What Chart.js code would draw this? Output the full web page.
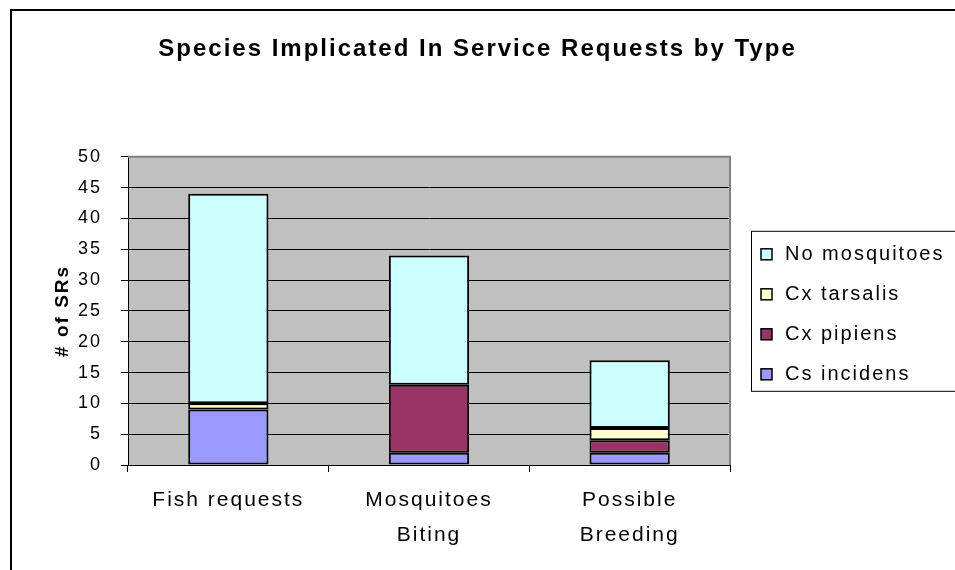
<!DOCTYPE html>
<html>
<head>
<meta charset="utf-8">
<script src="https://cdn.jsdelivr.net/npm/chart.js@4"></script>
<style>
  html, body { margin: 0; padding: 0; background: #fff; }
  #wrap { width: 955px; height: 570px; position: relative; }
</style>
</head>
<body>
<div id="wrap"><canvas id="srChart"></canvas></div>
<script>
// categories and series
const categories = ["Fish requests", ["Mosquitoes", "Biting"], ["Possible", "Breeding"]];
const csIncidens = [9, 2, 2];
const cxPipiens = [0, 11, 2];
const cxTarsalis = [1, 0, 2];
const noMosquitoes = [34, 21, 11];
const yMin = 0, yMax = 50, yStep = 5;

const font = "'Liberation Sans', Arial, sans-serif";

// Excel-ish wide text
const spacing = {
  id: "spacing",
  beforeLayout(chart) { chart.ctx.letterSpacing = "2px"; },
  beforeDraw(chart) { chart.ctx.letterSpacing = "2px"; }
};

const frame = {
  id: "frame",
  beforeDraw(chart) {
    const { ctx, chartArea: a } = chart;
    ctx.save();
    ctx.fillStyle = "#fff";
    ctx.fillRect(0, 0, chart.width, chart.height);
    ctx.strokeStyle = "#000";
    ctx.lineWidth = 2;
    ctx.strokeRect(11, 10, chart.width + 20, chart.height + 20);
    ctx.fillStyle = "#c0c0c0";
    ctx.fillRect(a.left, a.top, a.right - a.left, a.bottom - a.top);
    ctx.restore();
  },
  beforeDatasetsDraw(chart) {
    const { ctx, chartArea: a } = chart;
    ctx.save();
    ctx.strokeStyle = "#808080";
    ctx.lineWidth = 2;
    ctx.beginPath();
    ctx.moveTo(a.left, a.top);
    ctx.lineTo(a.right, a.top);
    ctx.lineTo(a.right, a.bottom);
    ctx.stroke();
    ctx.restore();
  },
  afterDraw(chart) {
    // legend box, reversed like Excel
    const { ctx, chartArea: a } = chart;
    const sets = chart.data.datasets.slice().reverse();
    const bx = a.right + 21, by = a.top + 74;
    ctx.save();
    ctx.letterSpacing = "2px";
    ctx.strokeStyle = "#000";
    ctx.lineWidth = 1;
    ctx.strokeRect(bx + 0.5, by + 0.5, 300, 160);
    ctx.font = "20px " + font;
    ctx.textBaseline = "middle";
    sets.forEach((ds, i) => {
      const y = by + 23 + i * 40;
      ctx.fillStyle = ds.backgroundColor;
      ctx.fillRect(bx + 10, y - 5, 11, 11);
      ctx.strokeStyle = "#000";
      ctx.lineWidth = 1.5;
      ctx.strokeRect(bx + 10, y - 5, 11, 11);
      ctx.fillStyle = "#000";
      ctx.fillText(ds.label, bx + 34, y + 1);
    });
    ctx.restore();
  }
};

const bar = (label, data, color) => ({
  label: label,
  data: data,
  backgroundColor: color,
  borderColor: "#000",
  borderWidth: 2,
  borderSkipped: false,
  barPercentage: 0.4,
  categoryPercentage: 1.0
});

new Chart(document.getElementById("srChart"), {
  type: "bar",
  data: {
    labels: categories,
    datasets: [
      bar("Cs incidens", csIncidens, "#9999ff"),
      bar("Cx pipiens", cxPipiens, "#993366"),
      bar("Cx tarsalis", cxTarsalis, "#ffffcc"),
      bar("No mosquitoes", noMosquitoes, "#ccffff")
    ]
  },
  options: {
    responsive: true,
    maintainAspectRatio: false,
    animation: false,
    layout: { padding: 0 },
    plugins: {
      legend: { display: false },
      tooltip: { enabled: false },
      title: {
        display: true,
        text: "Species Implicated In Service Requests by Type",
        color: "#000",
        font: { family: font, size: 24, weight: "bold" },
        padding: { top: 35, bottom: 93 }
      }
    },
    scales: {
      x: {
        stacked: true,
        afterFit: s => { s.height = 105; },
        grid: { display: true, drawOnChartArea: false, offset: true, tickLength: 7, color: "#000" },
        border: { color: "#000", width: 1 },
        ticks: { color: "#000", padding: 10, font: { family: font, size: 21, lineHeight: 1.7 } }
      },
      y: {
        stacked: true,
        min: yMin,
        max: yMax,
        afterFit: s => { s.width = 128; },
        ticks: { stepSize: yStep, color: "#000", padding: 19, font: { family: font, size: 18 } },
        grid: { color: "#000", lineWidth: 1, tickLength: 7 },
        border: { color: "#000", width: 1 },
        title: {
          display: true,
          text: "# of SRs",
          color: "#000",
          font: { family: font, size: 19, weight: "bold" },
          padding: { top: 51, bottom: 0 }
        }
      },
      // empty right-hand space where the legend sits
      side: {
        position: "right",
        display: true,
        afterFit: s => { s.width = 225; },
        grid: { display: false },
        border: { display: false },
        ticks: { display: false }
      }
    }
  },
  plugins: [spacing, frame]
});
</script>
</body>
</html>
